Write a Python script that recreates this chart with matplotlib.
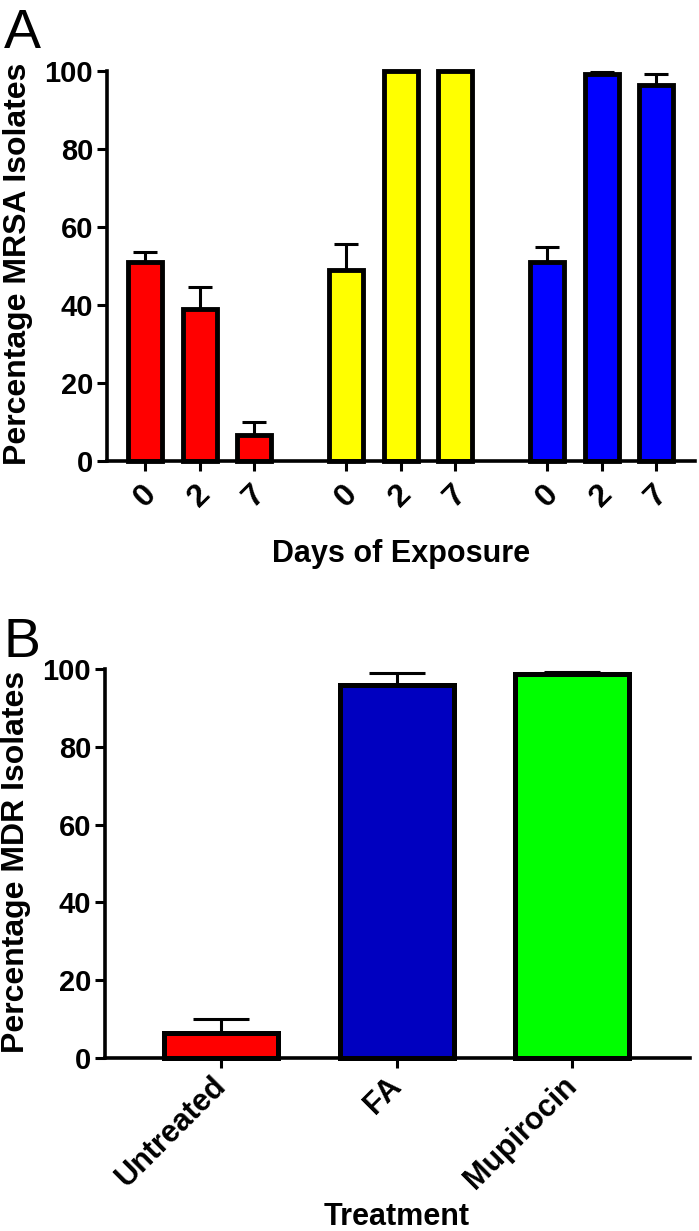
import numpy as np
import matplotlib
matplotlib.use("Agg")
import matplotlib.pyplot as plt

plt.rcParams["font.family"] = ["Liberation Sans", "DejaVu Sans"]
plt.rcParams["font.weight"] = "bold"

# panel A: % MRSA isolates by treatment group and days of exposure
days = ["0", "2", "7"]
group_colors = ["#FF0000", "#FFFF00", "#0000FF"]
mrsa_red = [51.0, 39.0, 6.7]
mrsa_red_err = [2.6, 5.6, 3.3]
mrsa_yellow = [49.0, 100.0, 100.0]
mrsa_yellow_err = [6.6, 0.0, 0.0]
mrsa_blue = [51.0, 99.2, 96.3]
mrsa_blue_err = [3.9, 0.5, 3.0]

# panel B: % MDR isolates by treatment
treatments = ["Untreated", "FA", "Mupirocin"]
treatment_colors = ["#FF0000", "#0000C0", "#00FF00"]
mdr_pct = [6.5, 96.0, 98.8]
mdr_err = [3.4, 3.0, 0.5]

FIG_W, FIG_H = 699, 1231


def px_axes(fig, left, right, top, bottom):
    return fig.add_axes([left / FIG_W, 1 - bottom / FIG_H,
                         (right - left) / FIG_W, (bottom - top) / FIG_H])


def style_axis(ax, xpad):
    for side in ["top", "right"]:
        ax.spines[side].set_visible(False)
    for side in ["left", "bottom"]:
        ax.spines[side].set_linewidth(2.6)
    ax.tick_params(axis="both", direction="out", length=7, width=2.2)
    ax.tick_params(axis="y", labelsize=21, pad=3)
    ax.tick_params(axis="x", pad=xpad)
    ax.set_ylim(0, 100)
    ax.set_yticks([0, 20, 40, 60, 80, 100])


fig = plt.figure(figsize=(FIG_W / 100, FIG_H / 100), dpi=100)

# ---- panel A
ax_a = px_axes(fig, 107, 695, 71, 461)
series = [(mrsa_red, mrsa_red_err), (mrsa_yellow, mrsa_yellow_err),
          (mrsa_blue, mrsa_blue_err)]
group_gap = 1.69
all_x = []
for g, (vals, errs) in enumerate(series):
    x = np.arange(len(days)) + g * (len(days) - 1 + group_gap)
    all_x.extend(x)
    ax_a.errorbar(x, vals, yerr=[np.zeros(len(errs)), errs], fmt="none",
                  ecolor="black", elinewidth=2.2, capsize=8.3, capthick=2.2,
                  zorder=1, clip_on=False)
    ax_a.bar(x, vals, width=0.62, color=group_colors[g], edgecolor="black",
             linewidth=3.5, zorder=2, clip_on=False)

ax_a.set_xlim(-0.70, 10.09)
ax_a.set_xticks(all_x)
ax_a.set_xticklabels(days * len(series), rotation=45, ha="center", fontsize=23)
style_axis(ax_a, 6)

fig.text(18 / FIG_W, 1 - 264 / FIG_H, "Percentage MRSA Isolates", rotation=90,
         ha="center", va="center", fontsize=23, fontweight="bold")
fig.text(401 / FIG_W, 1 - 562 / FIG_H, "Days of Exposure", ha="center",
         va="baseline", fontsize=22, fontweight="bold")
fig.text(4 / FIG_W, 1 - 48 / FIG_H, "A", ha="left", va="baseline",
         fontsize=40, fontweight="normal")

# ---- panel B
ax_b = px_axes(fig, 105, 690, 669, 1058)
xb = np.arange(len(treatments))
ax_b.errorbar(xb, mdr_pct, yerr=[np.zeros(len(mdr_err)), mdr_err], fmt="none",
              ecolor="black", elinewidth=2.2, capsize=20.5, capthick=2.2,
              zorder=1, clip_on=False)
ax_b.bar(xb, mdr_pct, width=0.65, color=treatment_colors, edgecolor="black",
         linewidth=3.6, zorder=2, clip_on=False)
ax_b.set_xlim(-0.66, 2.67)
ax_b.set_xticks(xb)
ax_b.set_xticklabels(treatments, rotation=45, ha="right", va="center",
                     rotation_mode="anchor", fontsize=22)
style_axis(ax_b, 10)

fig.text(16 / FIG_W, 1 - 862 / FIG_H, "Percentage MDR Isolates", rotation=90,
         ha="center", va="center", fontsize=23, fontweight="bold")
fig.text(397 / FIG_W, 1 - 1225 / FIG_H, "Treatment", ha="center",
         va="baseline", fontsize=22, fontweight="bold")
fig.text(3 / FIG_W, 1 - 657 / FIG_H, "B", ha="left", va="baseline",
         fontsize=40, fontweight="normal")

fig.savefig("out.png", dpi=100)
